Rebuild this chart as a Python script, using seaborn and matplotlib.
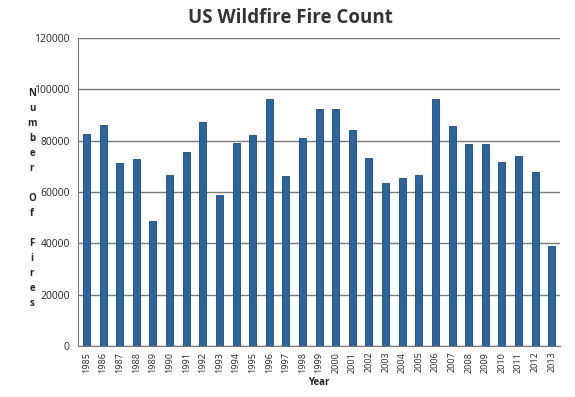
import numpy as np
import pandas as pd
import matplotlib
matplotlib.use("Agg")
import matplotlib.pyplot as plt
import seaborn as sns

# ─────────────────────────────────────────────────────────────────────────────
# Data
# ─────────────────────────────────────────────────────────────────────────────
years = [str(y) for y in range(1985, 2014)]
fire_counts = [
    82600, 86000, 71300, 72800, 48900, 66500, 75700, 87200, 58800, 79100,
    82300, 96400, 66400, 81000, 92400, 92200, 84100, 73400, 63500, 65400,
    66700, 96400, 85600, 78800, 78800, 71900, 74000, 67900, 39000,
]
y_ticks = [0, 20000, 40000, 60000, 80000, 100000, 120000]

BAR_COLOR = "#2a65a0"
EDGE_COLOR = "#1d4873"

df = pd.DataFrame({"Year": years, "Fires": fire_counts})

sns.set_style("white")
plt.rcParams["font.family"] = ["Open Sans", "DejaVu Sans"]

fig = plt.figure(figsize=(5.75, 3.97), dpi=100)
ax = fig.add_axes([0.136, 0.128, 0.838, 0.776])

ax.set_axisbelow(True)
ax.grid(axis="y", color="#7a7a7a", linewidth=1.0)

sns.barplot(
    data=df, x="Year", y="Fires", ax=ax,
    color=BAR_COLOR, saturation=1, width=0.42,
    edgecolor=EDGE_COLOR, linewidth=0.6,
)

ax.set_ylim(0, 120000)
ax.set_xlim(-0.5, len(years) - 0.5)
ax.set_yticks(y_ticks)
ax.set_yticklabels([str(v) for v in y_ticks], fontsize=7.5)
ax.tick_params(axis="y", length=3, width=0.8, color="#777777", pad=3)

# Category labels at bar centers, tick marks between categories (Excel style)
ax.set_xticks(range(len(years)))
ax.set_xticklabels(years, rotation=90, fontsize=6.5)
ax.tick_params(axis="x", which="major", length=0, pad=4)
ax.set_xticks(np.arange(-0.5, len(years), 1.0), minor=True)
ax.tick_params(axis="x", which="minor", length=3, width=0.8, color="#777777")

for side in ["top", "right"]:
    ax.spines[side].set_visible(False)
for side in ["left", "bottom"]:
    ax.spines[side].set_color("#777777")
    ax.spines[side].set_linewidth(0.8)

ax.set_xlabel("Year", fontsize=7, fontweight="bold", labelpad=3)
ax.set_ylabel("")

# Stacked-letter y label
fig.text(
    32 / 575, 0.5, "\n".join("Number Of Fires"),
    ha="center", va="center", fontsize=7, fontweight="bold",
    linespacing=1.5,
)

fig.text(0.505, 0.955, "US Wildfire Fire Count", ha="center", va="center",
         fontsize=13.5, fontweight="bold", color="#333333")

fig.savefig("out.png", dpi=100)
plt.close(fig)
